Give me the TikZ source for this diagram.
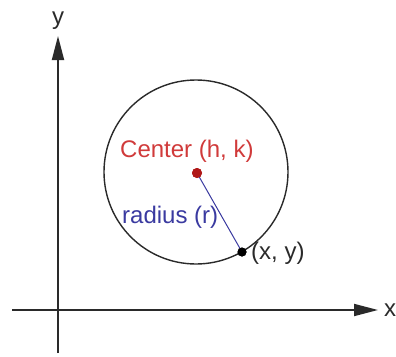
\documentclass[tikz,border=0pt]{standalone}
\usepackage{fontspec}
\setmainfont{Liberation Sans}
\usetikzlibrary{arrows.meta}
\definecolor{axisgray}{HTML}{2A2A2A}
\definecolor{ctrred}{HTML}{D03A3A}
\definecolor{dotred}{HTML}{B01818}
\definecolor{radblue}{HTML}{3A3AA0}
\tikzset{
  axis/.style={draw=axisgray, line width=1.8pt, -{Triangle[length=24pt,width=12pt]}},
  lbl/.style={inner sep=0pt, anchor=base west, font=\fontsize{24}{28}\selectfont},
  dotnode/.style={circle, inner sep=0pt, minimum size=#1},
}
\begin{document}
\begin{tikzpicture}[x=1pt,y=-1pt]
\useasboundingbox (0,0) rectangle (396,356);
% axes
\coordinate (yb) at (58,353);
\coordinate (yt) at (58,36);
\coordinate (xl) at (12,310);
\coordinate (xr) at (378,310);
\draw[axis] (yb) -- (yt);
\draw[axis] (xl) -- (xr);
\node[lbl, anchor=base, text=axisgray] (ylab) at (58,24) {y};
\node[lbl, text=axisgray] (xlab) at (384,316) {x};
% circle
\node[circle, draw=axisgray, line width=1.4pt, minimum size=184pt, inner sep=0pt] (circ) at (196,172) {};
% radius
\node[dotnode=10pt, fill=dotred] (ctr) at (197,173) {};
\node[dotnode=9pt, fill=black] (pt) at (242,252) {};
\draw[radblue, line width=1pt] (ctr.center) -- (pt.center);
\node[dotnode=10pt, fill=dotred] at (197,173) {};
\node[dotnode=9pt, fill=black] at (242,252) {};
% labels
\node[lbl, text=ctrred] (clab) at (120,157) {Center (h, k)};
\node[lbl, text=radblue] (rlab) at (122,223) {radius (r)};
\node[lbl, text=axisgray] (plab) at (251,259) {(x, y)};
\end{tikzpicture}
\end{document}
